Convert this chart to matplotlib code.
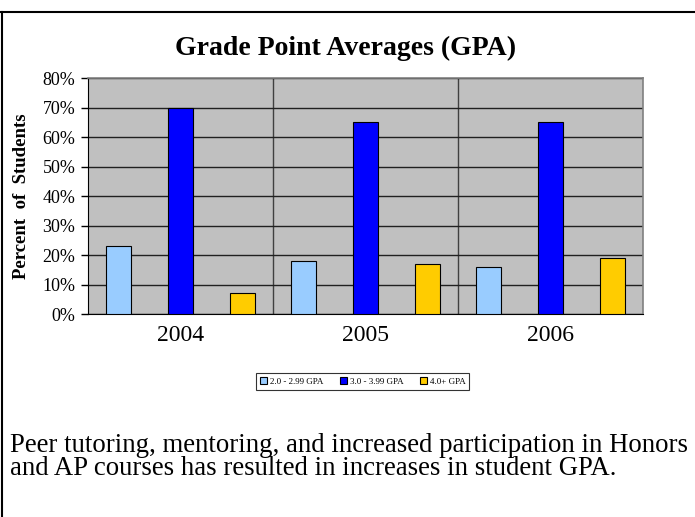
import matplotlib.pyplot as plt
import numpy as np
from matplotlib.lines import Line2D
from matplotlib.ticker import PercentFormatter

# Data
years = ["2004", "2005", "2006"]
series_names = ["2.0 - 2.99 GPA", "3.0 - 3.99 GPA", "4.0+ GPA"]
gpa_low = [23, 18, 16]
gpa_mid = [70, 65, 65]
gpa_high = [7, 17, 19]
colors = ["#99CCFF", "#0000FF", "#FFCC00"]

caption = ["Peer tutoring, mentoring, and increased participation in Honors",
           "and AP courses has resulted in increases in student GPA."]

plt.rcParams['font.family'] = ['Liberation Serif', 'DejaVu Serif']

fig = plt.figure(figsize=(6.95, 5.17), dpi=100)
ax = fig.add_axes([0.1266, 0.3926, 0.7986, 0.4565])

x = np.arange(len(years))
offsets = [-0.333, 0, 0.333]
width = 0.135
for vals, off, c, name in zip([gpa_low, gpa_mid, gpa_high], offsets, colors, series_names):
    ax.bar(x + off, vals, width, color=c, edgecolor='black', linewidth=0.8,
           label=name, zorder=3)

ax.set_facecolor('#C0C0C0')
ax.set_xlim(-0.5, 2.5)
ax.set_ylim(0, 80)
ax.set_yticks(np.arange(0, 81, 10))
ax.yaxis.set_major_formatter(PercentFormatter(decimals=0))
ax.set_xticks(x)
ax.set_xticklabels(years, fontsize=17)
ax.set_xticks([0.5, 1.5], minor=True)
ax.tick_params(axis='x', which='major', length=0, pad=8)
ax.tick_params(axis='x', which='minor', length=0)
ax.tick_params(axis='y', labelsize=13, length=5, width=1, pad=4)

ax.grid(axis='y', which='major', color='#202020', linewidth=1, zorder=1)
ax.grid(axis='x', which='minor', color='#404040', linewidth=1, zorder=1)
ax.set_axisbelow(True)

for side in ['top', 'right']:
    ax.spines[side].set_color('#808080')
    ax.spines[side].set_linewidth(1.2)
ax.spines['left'].set_color('black')
ax.spines['bottom'].set_color('black')

ax.set_ylabel("Percent  of  Students", fontsize=13.5, fontweight='bold', labelpad=9)

fig.text(0.497, 1 - 48 / 517, "Grade Point Averages (GPA)", ha='center', va='center',
         fontsize=20, fontweight='bold')

leg = fig.legend(loc='center', bbox_to_anchor=(0.522, 0.262), ncol=3, fontsize=6.5,
                 frameon=True, fancybox=False, edgecolor='black', handlelength=0.8,
                 handleheight=0.8, handletextpad=0.3, columnspacing=1.8,
                 borderpad=0.45)
leg.get_frame().set_linewidth(0.8)

fig.text(10 / 695, 1 - 452 / 517, caption[0], ha='left', va='baseline', fontsize=19.3)
fig.text(10 / 695, 1 - 475 / 517, caption[1], ha='left', va='baseline', fontsize=19.3)

# page border: top and left lines
fig.add_artist(Line2D([0, 1], [1 - 12 / 517] * 2, color='black', linewidth=1.5,
                      transform=fig.transFigure))
fig.add_artist(Line2D([1.5 / 695] * 2, [0, 1 - 12 / 517], color='black', linewidth=1.5,
                      transform=fig.transFigure))

fig.savefig("out.png", dpi=100)
